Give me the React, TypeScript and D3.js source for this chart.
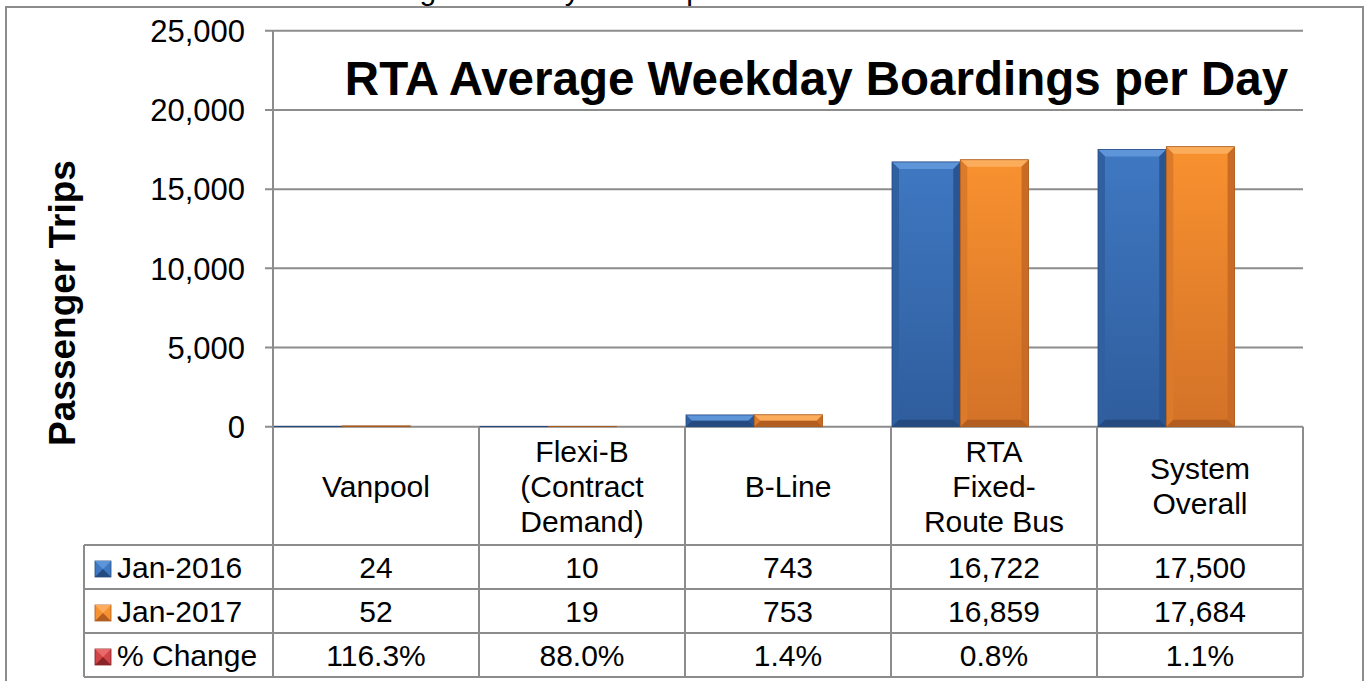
import React from "react";
import * as d3 from "d3";

const categories = ["Vanpool", "Flexi-B (Contract Demand)", "B-Line", "RTA Fixed-Route Bus", "System Overall"];
const categoryLines = [["Vanpool"], ["Flexi-B", "(Contract", "Demand)"], ["B-Line"], ["RTA", "Fixed-", "Route Bus"], ["System", "Overall"]];
const seriesNames = ["Jan-2016", "Jan-2017"];
const jan2016 = [24, 10, 743, 16722, 17500];
const jan2017 = [52, 19, 753, 16859, 17684];
const pctChange = ["116.3%", "88.0%", "1.4%", "0.8%", "1.1%"];
const yTicks = [0, 5000, 10000, 15000, 20000, 25000];
const tableRows = [
  { name: "Jan-2016", values: jan2016.map((v) => d3.format(",")(v)), key: "blue" },
  { name: "Jan-2017", values: jan2017.map((v) => d3.format(",")(v)), key: "orange" },
  { name: "% Change", values: pctChange, key: "red" },
];

const FONT = "'Liberation Sans', Arial, Helvetica, sans-serif";
const GRID = "#8c8c8c";

const palette: Record<string, { top: string; bot: string; bevTop: string; left: string; right: string; bottom: string; stroke: string }> = {
  blue: { top: "#3f78c2", bot: "#2f5d9d", bevTop: "#5d95d8", left: "#30609f", right: "#2b5590", bottom: "#244a80", stroke: "#244a80" },
  orange: { top: "#f8912f", bot: "#d37228", bevTop: "#fbad5c", left: "#dc7a2b", right: "#c96b25", bottom: "#b35e20", stroke: "#a85a1e" },
  red: { top: "#d24446", bot: "#a52e30", bevTop: "#e86a6a", left: "#b93a3c", right: "#9e2b2d", bottom: "#8a2426", stroke: "#7e2022" },
};

function BevelRect({ x, y, w, h, c, id }: { x: number; y: number; w: number; h: number; c: string; id: string }) {
  const p = palette[c];
  const b = Math.max(0, Math.min(7, h / 2, w / 2));
  const poly = (pts: number[][]) => pts.map((q) => q.join(",")).join(" ");
  return (
    <g>
      <defs>
        <linearGradient id={id} x1="0" y1="0" x2="0" y2="1">
          <stop offset="0" stopColor={p.top} />
          <stop offset="1" stopColor={p.bot} />
        </linearGradient>
      </defs>
      <rect x={x} y={y} width={w} height={h} fill={`url(#${id})`} />
      <polygon points={poly([[x, y], [x + w, y], [x + w - b, y + b], [x + b, y + b]])} fill={p.bevTop} />
      <polygon points={poly([[x, y], [x + b, y + b], [x + b, y + h - b], [x, y + h]])} fill={p.left} />
      <polygon points={poly([[x + w, y], [x + w - b, y + b], [x + w - b, y + h - b], [x + w, y + h]])} fill={p.right} />
      <polygon points={poly([[x, y + h], [x + b, y + h - b], [x + w - b, y + h - b], [x + w, y + h]])} fill={p.bottom} />
      <rect x={x} y={y} width={w} height={h} fill="none" stroke={p.stroke} strokeWidth={0.8} />
    </g>
  );
}

export default function App() {
  const W = 1365;
  const H = 681;
  const plotLeft = 273;
  const plotRight = 1303;
  const y = d3.scaleLinear().domain([0, 25000]).range([426.7, 30.8]);
  const x = d3.scaleBand().domain(categories).range([plotLeft, plotRight]).paddingInner(0).paddingOuter(0);
  const bw = x.bandwidth();
  const xs = d3.scaleBand().domain(seriesNames).range([1, 1 + bw * 0.663]);
  const y0 = y(0);
  const headerBottom = 545;
  const rowH = 44;
  const legendLeft = 84;
  const tableBottom = headerBottom + rowH * tableRows.length;
  const fs = 30;

  const series = [
    { name: seriesNames[0], values: jan2016, c: "blue" },
    { name: seriesNames[1], values: jan2017, c: "orange" },
  ];

  return (
    <svg width={W} height={H} style={{ position: "absolute", left: 0, top: 0, background: "#fff" }} fontFamily={FONT}>
      <rect x={0} y={0} width={W} height={H} fill="#fff" />
      <text x={41} y={0} fontSize={30} fill="#000">Below is a chart of the average weekday ridership for the month.</text>
      <rect x={6} y={7} width={1357} height={700} fill="#fff" stroke={GRID} strokeWidth={2} />

      {/* gridlines and ticks */}
      {yTicks.map((t) => (
        <g key={t}>
          <line x1={265} x2={plotRight} y1={y(t)} y2={y(t)} stroke={GRID} strokeWidth={2} />
          <text x={245} y={y(t)} dy="0.36em" textAnchor="end" fontSize={31} fill="#000">
            {d3.format(",")(t)}
          </text>
        </g>
      ))}

      {/* bars */}
      {series.map((s, si) =>
        s.values.map((v, i) => {
          const bx = (x(categories[i]) as number) + (xs(s.name) as number);
          const by = y(v);
          return <BevelRect key={`${si}-${i}`} id={`g${si}-${i}`} x={bx} y={by} w={xs.bandwidth()} h={y0 - by} c={s.c} />;
        })
      )}

      {/* axis line */}
      <line x1={plotLeft} x2={plotLeft} y1={y(25000)} y2={tableBottom} stroke={GRID} strokeWidth={2} />

      {/* table grid */}
      {categories.map((c, i) => (
        <line key={c} x1={(x(c) as number) + bw} x2={(x(c) as number) + bw} y1={y0} y2={tableBottom} stroke={GRID} strokeWidth={2} />
      ))}
      {[0, 1, 2, 3].map((r) => (
        <line key={r} x1={legendLeft} x2={plotRight} y1={headerBottom + r * rowH} y2={headerBottom + r * rowH} stroke={GRID} strokeWidth={2} />
      ))}
      <line x1={legendLeft} x2={legendLeft} y1={headerBottom} y2={tableBottom} stroke={GRID} strokeWidth={2} />

      {/* header labels */}
      {categoryLines.map((lines, i) => {
        const cx = (x(categories[i]) as number) + bw / 2;
        const cy = (y0 + headerBottom) / 2;
        const lh = 35;
        return (
          <text key={i} textAnchor="middle" fontSize={fs} fill="#000">
            {lines.map((l, li) => (
              <tspan key={li} x={cx} y={cy + (li - (lines.length - 1) / 2) * lh} dy="0.36em">
                {l}
              </tspan>
            ))}
          </text>
        );
      })}

      {/* table rows */}
      {tableRows.map((row, r) => {
        const cy = headerBottom + r * rowH + rowH / 2;
        const p = palette[row.key];
        return (
          <g key={row.name}>
            <rect x={95} y={cy - 6} width={16} height={16} fill={p.top} stroke={p.stroke} strokeWidth={0.8} />
            <polygon points={`95,${cy - 6} 111,${cy - 6} 103,${cy + 2}`} fill={p.bevTop} />
            <polygon points={`95,${cy + 10} 111,${cy + 10} 103,${cy + 2}`} fill={p.bottom} />
            <text x={117} y={cy} dy="0.36em" fontSize={fs} fill="#000">
              {row.name}
            </text>
            {row.values.map((v, i) => (
              <text key={i} x={(x(categories[i]) as number) + bw / 2} y={cy} dy="0.36em" textAnchor="middle" fontSize={fs} fill="#000">
                {v}
              </text>
            ))}
          </g>
        );
      })}

      {/* axis title */}
      <text transform="translate(75,303) rotate(-90)" textAnchor="middle" fontSize={37} fontWeight="bold" fill="#000">
        Passenger Trips
      </text>

      {/* chart title */}
      <text x={816.5} y={95} textAnchor="middle" fontSize={47.5} fontWeight="bold" fill="#000">
        RTA Average Weekday Boardings per Day
      </text>
    </svg>
  );
}
